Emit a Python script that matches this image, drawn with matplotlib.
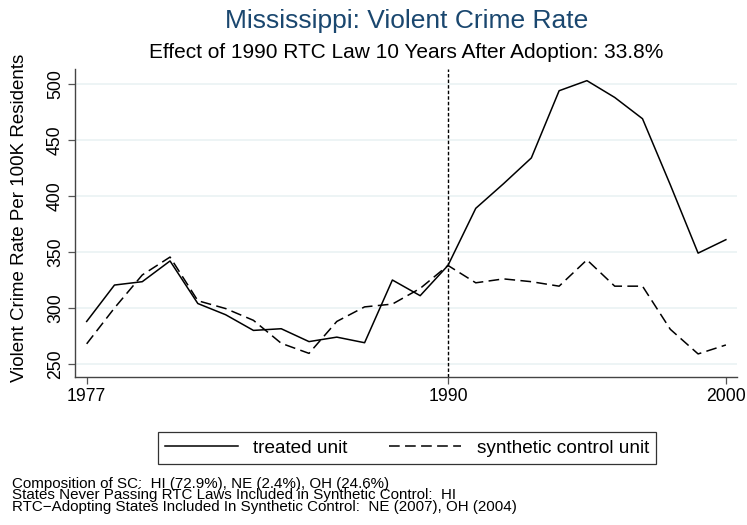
import numpy as np
import matplotlib
matplotlib.use("Agg")
import matplotlib.pyplot as plt

plt.rcParams['font.family'] = ['Liberation Sans', 'DejaVu Sans']

# Dados
years = list(range(1977, 2001))
treated = [288, 320.5, 323.5, 342, 304, 294, 280, 281.5, 270, 274, 269, 325,
           311, 338, 389, 411, 434, 494, 503, 488, 469, 410, 349, 361]
synthetic = [268, 300, 329.5, 345.5, 306.5, 299.5, 289, 268.5, 259.5, 288, 301, 303.5,
             317.5, 338, 322.5, 326, 323.5, 319.5, 343, 319.5, 319.5, 281, 259, 267]
treat_year = 1990
xticks = [1977, 1990, 2000]
yticks = [250, 300, 350, 400, 450, 500]

title = "Mississippi: Violent Crime Rate"
subtitle = "Effect of 1990 RTC Law 10 Years After Adoption: 33.8%"
ylabel = "Violent Crime Rate Per 100K Residents"
notes = ["Composition of SC:  HI (72.9%), NE (2.4%), OH (24.6%)",
         "States Never Passing RTC Laws Included in Synthetic Control:  HI",
         "RTC\u2212Adopting States Included In Synthetic Control:  NE (2007), OH (2004)"]

W, H = 747, 525
fig = plt.figure(figsize=(W / 100, H / 100), dpi=100)
ax = fig.add_axes([75 / W, 1 - 377 / H, (737 - 75) / W, (377 - 69) / H])

ax.plot(years, treated, color='black', lw=1.1, label='treated unit')
ax.plot(years, synthetic, color='black', lw=1.1, linestyle=(0, (7, 3.5)),
        label='synthetic control unit')
ax.axvline(treat_year, color='black', lw=1.0, linestyle=(0, (2.5, 1.5)))

ax.set_xlim(1976.58, 2000.4)
ax.set_ylim(238.4, 513.4)
ax.set_xticks(xticks)
ax.set_yticks(yticks)
ax.set_yticklabels([str(v) for v in yticks], rotation=90, va='center')
ax.tick_params(axis='both', labelsize=12.7, length=5, width=0.9, color='#555555', direction='out')
ax.tick_params(axis='y', pad=3)
ax.tick_params(axis='x', pad=3)
ax.grid(axis='y', color='#eaf2f3', lw=1.2)
ax.set_axisbelow(True)
for s in ['top', 'right']:
    ax.spines[s].set_visible(False)
for s in ['left', 'bottom']:
    ax.spines[s].set_color('#444444')
    ax.spines[s].set_linewidth(1.0)

fig.text(20 / W, 1 - 218 / H, ylabel, rotation=90, ha='center', va='center', fontsize=13.5)
fig.text(406.5 / W, 1 - 28 / H, title, ha='center', va='baseline', fontsize=19, color='#1a476f')
fig.text(406.5 / W, 1 - 57.5 / H, subtitle, ha='center', va='baseline', fontsize=15)

leg = fig.legend(loc='center', bbox_to_anchor=(407 / W, 1 - 448 / H), ncol=2, fontsize=13.7,
                 frameon=True, fancybox=False, edgecolor='black', handlelength=3.8,
                 columnspacing=2.2, borderpad=0.4, handletextpad=0.8)
leg.get_frame().set_linewidth(0.9)

# notas de rodapé num único bloco de texto
fig.text(12 / W, 1 - 477 / H, "\n".join(notes), ha='left', va='top', fontsize=10.9,
         linespacing=0.77)

fig.savefig("out.png", dpi=100)
